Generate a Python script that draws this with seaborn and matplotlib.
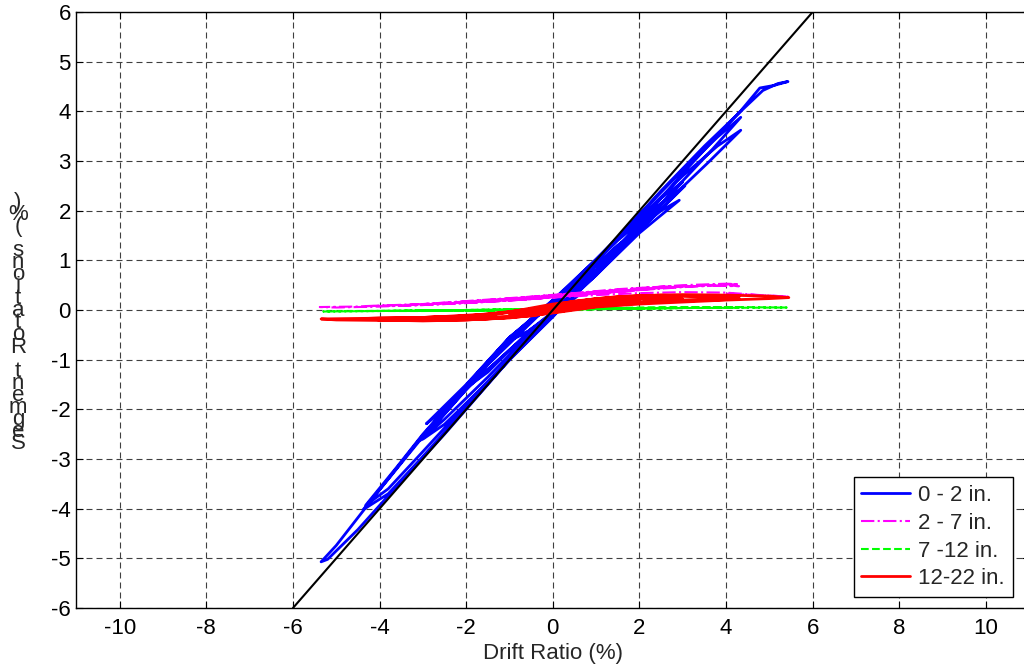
import matplotlib
matplotlib.use("Agg")
import matplotlib.pyplot as plt
import seaborn as sns

# segment rotation vs drift ratio, one hysteresis path per height band
blue_x = [0.00, 0.50, 1.00, 0.60, 0.00, -0.50, -1.00, -0.60, 0.00,
          0.50, 1.00, 0.50, 0.00, -0.50, -1.00, -0.50, 0.00,
          0.50, 1.00, 2.00, 1.50, 1.00, 0.00, -1.00, -2.00, -1.50, -1.00, 0.00,
          1.00, 2.05, 1.50, 0.50, 0.00, -1.00, -2.05, -1.50, -0.50, 0.00,
          1.00, 2.00, 2.92, 2.50, 1.50, 0.50, 0.00, -1.00, -2.00, -2.92, -2.50, -1.50,
          -0.50, 0.00,
          1.00, 2.00, 3.05, 2.50, 1.50, 0.50, 0.00, -1.00, -2.00, -3.05, -2.50, -1.50,
          -0.50, 0.00,
          1.00, 2.00, 3.00, 2.50, 1.50, 0.00, -1.50, -3.00, -2.50, -1.50, 0.00,
          1.00, 2.00, 3.00, 3.60, 4.34, 3.80, 3.00, 2.00, 1.00, 0.00, -1.00, -2.00, -3.00,
          -3.60, -4.32, -3.80, -3.00, -2.00, -1.00, 0.00,
          1.00, 2.00, 3.00, 3.70, 4.34, 3.80, 3.00, 2.00, 1.00, 0.00, -1.00, -2.00, -3.00,
          -4.00, -4.38, -3.80, -3.00, -2.00, -1.00, 0.00,
          1.00, 2.00, 3.00, 3.60, 4.33, 4.78, 5.10, 5.43, 5.20, 4.85, 4.40, 3.50, 2.50,
          1.50, 0.50, 0.00, -1.00, -2.00, -3.00, -4.00, -5.00, -5.35, -5.20, -4.50, -3.50,
          -2.50, -1.50, -0.50, 0.00, 0.60]
blue_y = [0.00, 0.35, 0.78, 0.50, 0.08, -0.20, -0.62, -0.45, -0.04,
          0.38, 0.80, 0.48, 0.10, -0.18, -0.60, -0.40, -0.05,
          0.30, 0.72, 1.58, 1.26, 0.88, 0.12, -0.56, -1.55, -1.20, -0.80, -0.06,
          0.74, 1.62, 1.30, 0.50, 0.14, -0.58, -1.60, -1.25, -0.38, -0.08,
          0.70, 1.55, 2.21, 2.00, 1.30, 0.50, 0.15, -0.55, -1.50, -2.29, -2.00, -1.20,
          -0.42, -0.10,
          0.72, 1.60, 2.50, 2.15, 1.40, 0.55, 0.16, -0.60, -1.60, -2.62, -2.20, -1.35,
          -0.45, -0.12,
          0.75, 1.68, 2.58, 2.25, 1.45, 0.17, -1.10, -2.60, -2.30, -1.45, -0.12,
          0.70, 1.60, 2.48, 2.98, 3.62, 3.30, 2.70, 1.85, 1.00, 0.18, -0.55, -1.52, -2.50,
          -3.16, -3.93, -3.60, -2.85, -1.90, -0.98, -0.12,
          0.72, 1.66, 2.60, 3.25, 3.88, 3.48, 2.82, 1.92, 1.02, 0.20, -0.58, -1.55, -2.55,
          -3.62, -4.02, -3.70, -2.95, -1.97, -1.00, -0.14,
          0.80, 1.75, 2.75, 3.32, 4.00, 4.47, 4.52, 4.60, 4.56, 4.42, 4.05, 3.30, 2.40,
          1.45, 0.55, 0.20, -0.56, -1.52, -2.52, -3.62, -4.74, -5.07, -5.02, -4.42, -3.45,
          -2.50, -1.50, -0.50, -0.10, 0.30]

magenta_x = [0.0, 0.5, 1.0, 0.5, 0.0, -0.5, -1.0, -0.5, 0.0, 1.0, 2.0, 1.5, 0.5, -0.5,
             -1.5, -2.0, -1.5, -0.5, 0.5, 1.5, 2.1, 3.0, 2.5, 1.5, 0.5, -0.5, -1.5, -2.5,
             -3.0, -2.5, -1.5, -0.5, 0.5, 1.5, 2.5, 3.5, 4.3, 4.0, 3.0, 2.0, 1.0, 0.0,
             -1.0, -2.0, -3.0, -4.0, -4.3, -4.0, -3.0, -2.0, -1.0, 0.0, 1.0, 2.0, 3.0, 4.0,
             4.3, 3.5, 2.5, 1.5, 0.5, -0.5, -1.5, -2.5, -3.5, -4.5, -5.38, -5.0, -4.0, -3.0,
             -2.0, -1.0, 0.0, 1.0, 2.0, 3.0, 4.0, 4.8, 5.45, 5.0, 4.0]
magenta_y = [0.25, 0.30, 0.34, 0.33, 0.28, 0.24, 0.20, 0.22, 0.26, 0.33, 0.40, 0.40, 0.33, 0.26,
             0.20, 0.17, 0.18, 0.22, 0.30, 0.38, 0.42, 0.48, 0.47, 0.42, 0.34, 0.27, 0.21, 0.15,
             0.12, 0.13, 0.17, 0.23, 0.30, 0.37, 0.44, 0.50, 0.52, 0.53, 0.50, 0.44, 0.37, 0.30,
             0.23, 0.17, 0.12, 0.09, 0.08, 0.08, 0.10, 0.14, 0.19, 0.26, 0.33, 0.40, 0.46, 0.50,
             0.48, 0.49, 0.45, 0.38, 0.31, 0.24, 0.18, 0.13, 0.10, 0.07, 0.06, 0.05, 0.07, 0.10,
             0.14, 0.19, 0.25, 0.30, 0.34, 0.36, 0.35, 0.30, 0.27, 0.29, 0.33]

green_x = [0.0, 1.0, 2.0, 1.0, 0.0, -1.0, -2.0, -1.0, 0.0, 2.0, 3.0, 2.0, 0.0, -2.0, -3.0,
           -2.0, 0.0, 3.0, 4.3, 3.0, 0.0, -3.0, -4.3, -3.0, 0.0, 3.0, 5.4, 4.0, 2.0, 0.0,
           -2.0, -4.0, -5.3, -4.0, -2.0, 0.0]
green_y = [0.01, 0.02, 0.03, 0.03, 0.01, -0.01, -0.01, 0.00, 0.01, 0.03, 0.04, 0.04, 0.02, -0.01, -0.01,
           -0.01, 0.01, 0.04, 0.05, 0.05, 0.02, -0.01, -0.02, -0.02, 0.00, 0.04, 0.05, 0.06, 0.05, 0.02,
           0.00, -0.02, -0.03, -0.02, 0.00, 0.02]

red_x = [0.0, 0.5, 1.0, 0.5, 0.0, -0.5, -1.0, -0.5, 0.0, 1.0, 2.0, 1.5, 0.5, -0.5, -1.5,
         -2.0, -1.5, -0.5, 0.5, 1.5, 2.1, 3.0, 2.5, 1.5, 0.5, -0.5, -1.5, -2.5, -3.0, -2.5,
         -1.5, -0.5, 0.5, 1.5, 2.5, 3.5, 4.3, 4.0, 3.0, 2.0, 1.0, 0.0, -1.0, -2.0, -3.0,
         -4.0, -4.3, -4.0, -3.0, -2.0, -1.0, 0.0, 1.0, 2.0, 3.0, 4.0, 4.3, 3.5, 2.5, 1.5,
         0.5, -0.5, -1.5, -2.5, -3.5, -4.5, -5.35, -5.0, -4.0, -3.0, -2.0, -1.0, 0.0, 1.0,
         2.0, 3.0, 4.0, 5.0, 5.45, 5.0, 4.0, 3.0, 2.0, 1.0, 0.0, -0.5]
red_y = [0.00, 0.08, 0.12, 0.10, 0.03, -0.05, -0.10, -0.08, -0.02, 0.10, 0.18, 0.18, 0.12, 0.00, -0.10,
         -0.14, -0.15, -0.10, 0.02, 0.12, 0.16, 0.22, 0.23, 0.20, 0.14, 0.02, -0.08, -0.13, -0.15, -0.18,
         -0.18, -0.12, 0.02, 0.12, 0.18, 0.22, 0.26, 0.28, 0.28, 0.26, 0.22, 0.12, -0.04, -0.12, -0.15,
         -0.16, -0.17, -0.20, -0.22, -0.20, -0.15, -0.05, 0.08, 0.14, 0.18, 0.21, 0.22, 0.27, 0.30, 0.27,
         0.18, 0.02, -0.10, -0.14, -0.16, -0.17, -0.18, -0.20, -0.21, -0.21, -0.20, -0.16, -0.06, 0.06,
         0.12, 0.16, 0.20, 0.23, 0.25, 0.28, 0.30, 0.31, 0.29, 0.23, 0.10, 0.02]

ref_x = [-6, 6]
ref_y = [-6, 6]

labels = ["0 - 2 in.", "2 - 7 in.", "7 -12 in.", "12-22 in."]
x_ticks = list(range(-10, 11, 2))
y_ticks = list(range(-6, 7))

sns.set_style("ticks")
plt.rcParams["font.family"] = ["Liberation Sans", "DejaVu Sans"]
plt.rcParams["axes.unicode_minus"] = False

fig = plt.figure(figsize=(10.24, 6.70), dpi=100)
ax = fig.add_axes([0.0746, 0.0925, 0.9305, 0.8896])

sns.lineplot(x=blue_x, y=blue_y, sort=False, estimator=None, color="#0000ff",
             linewidth=2.0, label=labels[0], ax=ax)
sns.lineplot(x=magenta_x, y=magenta_y, sort=False, estimator=None, color="#ff00ff",
             linewidth=1.5, linestyle="-.", label=labels[1], ax=ax)
sns.lineplot(x=green_x, y=green_y, sort=False, estimator=None, color="#00ff00",
             linewidth=1.5, linestyle="--", label=labels[2], ax=ax)
sns.lineplot(x=red_x, y=red_y, sort=False, estimator=None, color="#ff0000",
             linewidth=2.0, label=labels[3], ax=ax)
sns.lineplot(x=ref_x, y=ref_y, sort=False, estimator=None, color="black",
             linewidth=1.5, ax=ax)

ax.set_xlim(-11, 11)
ax.set_ylim(-6, 6)
ax.set_xticks(x_ticks)
ax.set_yticks(y_ticks)
ax.tick_params(direction="in", length=5, width=0.8, labelsize=16, pad=4,
               top=True, right=True, colors="black")
ax.tick_params(axis="x", pad=7)
ax.grid(True, color="#404040", linestyle=(0, (5.4, 3.6)), linewidth=0.8)
for sp in ax.spines.values():
    sp.set_visible(True)
    sp.set_color("black")
    sp.set_linewidth(1.0)

ax.set_xlabel("Drift Ratio (%)", fontsize=16, labelpad=3)
ax.set_ylabel("")

# vertical stacked label as in the original figure
ylabel_text = "\n".join(reversed("Segment Rotations (%)"))
fig.text(0.0176, 0.518, ylabel_text, fontsize=16, ha="center", va="center",
         linespacing=0.44)

leg = ax.legend(loc="lower right", bbox_to_anchor=(0.9825, 0.0185), borderaxespad=0,
                fontsize=16, frameon=True, fancybox=False, framealpha=1,
                handlelength=2.2, handletextpad=0.35, labelspacing=0.3, borderpad=0.35)
leg.get_frame().set_edgecolor("black")
leg.get_frame().set_linewidth(1.0)

fig.savefig("out.png", dpi=100)
